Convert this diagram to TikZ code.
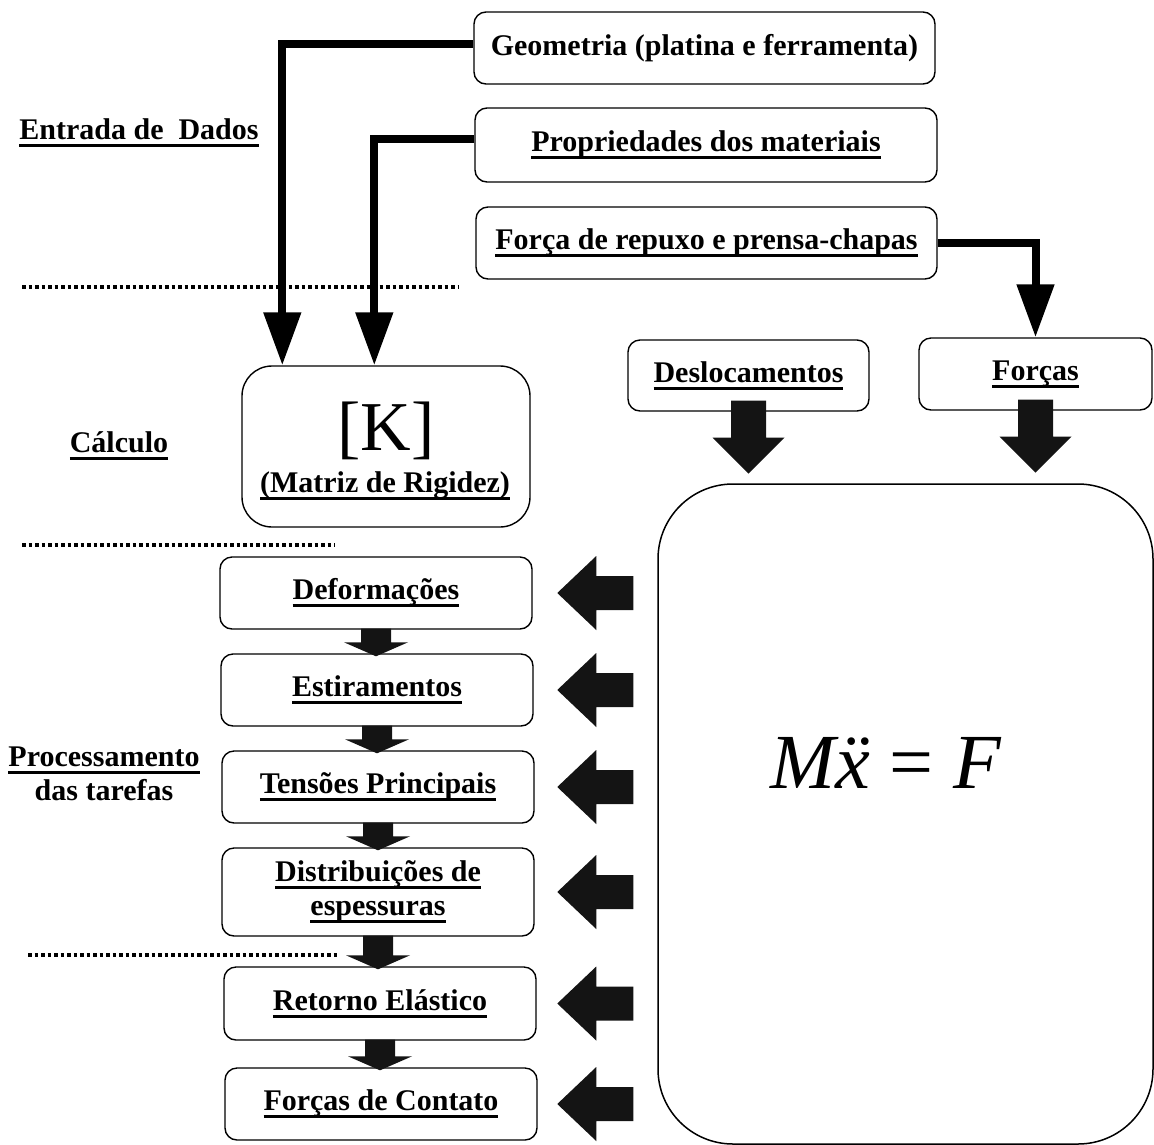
\documentclass[tikz,border=0pt]{standalone}
\usepackage{fontspec}
\setmainfont{Liberation Serif}
\usetikzlibrary{arrows.meta,calc}
\newcommand\uln[1]{\setbox0\hbox{#1}\rlap{\rule[-0.25em]{\wd0}{0.1em}}\box0}
\tikzset{
  box/.style={draw, line width=1.4pt, rounded corners=12pt, inner sep=0pt,
    font=\fontsize{30}{34}\selectfont\bfseries, align=center},
  lbl/.style={font=\fontsize{30}{34}\selectfont\bfseries, inner sep=0pt, align=center},
  fat/.style={line width=8pt, -{Triangle[length=53pt,width=36pt]}},
  blk/.style={fill=black!92},
  sep/.style={line width=3.5pt, dash pattern=on 3.5pt off 3pt},
}
\newcommand\smalldown[2]{%
  \fill[blk] ($(#1.south)+(-15,-1)$) -- ($(#1.south)+(15,-1)$) -- ($(#1.south |- #2.north)+(15,-11)$)
    -- ($(#1.south |- #2.north)+(32,-11)$) -- ($(#1.south |- #2.north)+(0,3)$) -- ($(#1.south |- #2.north)+(-32,-11)$)
    -- ($(#1.south |- #2.north)+(-15,-11)$) -- cycle;}
\newcommand\bigdown[1]{%
  \begin{scope}[shift={(#1.south)}]
  \fill[blk] (-17.5,-11) -- (17.5,-11) -- (17.5,26) -- (36,26) -- (0,62) -- (-36,26) -- (-17.5,26) -- cycle;
  \end{scope}}
\newcommand\leftblk[1]{%
  \begin{scope}[shift={(eq.west |- #1)}]
  \fill[blk] (-24,-17) -- (-24,17) -- (-61,17) -- (-61,37) -- (-100,0) -- (-61,-37) -- (-61,-17) -- cycle;
  \end{scope}}
\begin{document}
\begin{tikzpicture}[x=1pt,y=-1pt]
\useasboundingbox (0,0) rectangle (1154,1144);
% top boxes
\node[box, minimum width=461pt, minimum height=72pt] (geo) at (704.5,48) {Geometria (platina e ferramenta)};
\node[box, minimum width=462pt, minimum height=74pt] (prop) at (706,145) {\uln{Propriedades dos materiais}};
\node[box, minimum width=461pt, minimum height=72pt] (forca) at (706.5,243) {\uln{Força de repuxo e prensa-chapas}};
% K box
\node[box, rounded corners=30pt, minimum width=288pt, minimum height=161pt] (K) at (386,446.5) {};
\node[font=\fontsize{70}{72}\selectfont, inner sep=0pt] (Ksym) at (386,431) {[K]};
\node[lbl] (Kname) at (385,486) {\uln{(Matriz de Rigidez)}};
% middle boxes
\node[box, minimum width=241pt, minimum height=71pt] (desl) at (748.5,375.5) {\uln{Deslocamentos}};
\node[box, minimum width=233pt, minimum height=72pt] (forcas) at (1035.5,374) {\uln{Forças}};
% big box
\node[draw, line width=1.5pt, rounded corners=75pt, minimum width=495pt, minimum height=660pt, inner sep=0pt] (eq) at (905.5,814) {};
\node[font=\fontsize{78}{80}\selectfont, inner sep=0pt, anchor=base] (eqtext) at (886,788) {\itshape M\"x \upshape= \itshape F};
% left column
\node[box, minimum width=312pt, minimum height=72pt] (defo) at (376,593) {\uln{Deformações}};
\node[box, minimum width=312pt, minimum height=72pt] (esti) at (377,690) {\uln{Estiramentos}};
\node[box, minimum width=312pt, minimum height=72pt] (tens) at (378,787) {\uln{Tensões Principais}};
\node[box, minimum width=312pt, minimum height=88pt] (dist) at (378,892) {\uln{Distribuições de}\\\uln{espessuras}};
\node[box, minimum width=312pt, minimum height=73pt] (reto) at (380,1003.5) {\uln{Retorno Elástico}};
\node[box, minimum width=312pt, minimum height=72pt] (fcon) at (381,1104) {\uln{Forças de Contato}};
% left labels
\node[lbl] (entrada) at (139,133) {\uln{Entrada de\ \ Dados}};
\node[lbl] (calculo) at (119,446) {\uln{Cálculo}};
\node[lbl] (proc) at (104,774) {\uln{Processamento}\\das tarefas};
% separators
\draw[sep] (22,287) -- (458,287);
\draw[sep] (22,545) -- (335,545);
\draw[sep] (28,955) -- (340,955);
% connectors
\draw[fat] ([yshift=4pt]geo.west) -| ([xshift=41pt]K.north west);
\draw[fat] ([yshift=6pt]prop.west) -| ([xshift=133pt]K.north west);
\draw[fat] (forca.east) -| (forcas.north);
\bigdown{desl}
\bigdown{forcas}
\smalldown{defo}{esti}
\smalldown{esti}{tens}
\smalldown{tens}{dist}
\smalldown{dist}{reto}
\smalldown{reto}{fcon}
\leftblk{defo}
\leftblk{esti}
\leftblk{tens}
\leftblk{dist}
\leftblk{reto}
\leftblk{fcon}
\end{tikzpicture}
\end{document}
